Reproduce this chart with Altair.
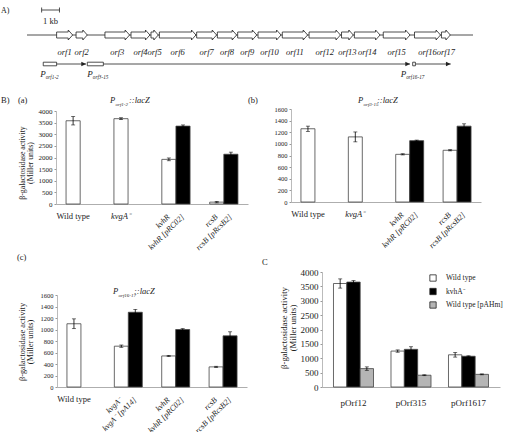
import altair as alt
import pandas as pd

FONT = "Liberation Serif"
INK = "#222222"
W, H = 515, 432

# ---------------- A) gene cluster map (kb) ----------------
MAP_KB = 25.0
ORF_NAMES = [f"orf{i}" for i in range(1, 18)]
ORF_START = [1.66, 2.75, 4.37, 5.83, 6.95, 7.42, 9.51, 10.67, 11.81, 12.95,
             14.31, 15.81, 17.63, 18.35, 19.97, 21.72, 23.23]
ORF_END = [2.56, 3.38, 5.75, 6.89, 7.36, 9.47, 10.63, 11.75, 12.88, 14.24,
           15.73, 17.57, 18.29, 19.79, 21.47, 23.18, 23.73]
PROMOTERS = ["orf1-2", "orf3-15", "orf16-17"]
PROMOTER_START = [0.91, 3.38, 21.62]
PROMOTER_END = [1.66, 4.28, 21.77]
TRANSCRIPT_END = [3.31, 21.47, 23.75]
SCALE_BAR_KB = [0.82, 1.82]

# ---------------- B) lacZ fusions, Miller units ----------------
STRAINS = ["Wild type", "kvgA⁻", "kvhR", "rcsB"]
SERIES = ["mutant", "complemented"]

A_MUT = [3580, 3670, 1920, 80]
A_MUT_ERR = [180, 40, 60, 30]
A_COMP = [None, None, 3350, 2140]
A_COMP_ERR = [None, None, 50, 90]
A_COMP_LABELS = [None, None, "kvhR [pRC02]", "rcsB [pRcsB2]"]

B_MUT = [1260, 1120, 820, 890]
B_MUT_ERR = [45, 85, 10, 10]
B_COMP = [None, None, 1055, 1305]
B_COMP_ERR = [None, None, 10, 40]
B_COMP_LABELS = [None, None, "kvhR [pRC02]", "rcsB [pRcsB2]"]

C_MUT = [1100, 710, 540, 350]
C_MUT_ERR = [85, 20, 10, 10]
C_COMP = [None, 1300, 1000, 890]
C_COMP_ERR = [None, 50, 15, 70]
C_COMP_LABELS = [None, "kvgA⁻ [pA14]", "kvhR [pRC02]", "rcsB [pRcsB2]"]

# ---------------- C) plasmid-borne fusions ----------------
FUSIONS = ["pOrf12", "pOrf315", "pOrf1617"]
HOSTS = ["Wild type", "kvhA⁻", "Wild type [pAHm]"]
HOST_WT = [3600, 1250, 1120]
HOST_WT_ERR = [160, 40, 80]
HOST_KVHA = [3650, 1310, 1070]
HOST_KVHA_ERR = [50, 90, 15]
HOST_PAHM = [640, 410, 440]
HOST_PAHM_ERR = [60, 15, 15]

Y_TITLE = ["β-galactosidase activity", "(Miller units)"]
ONE = pd.DataFrame({"n": [0]})


def note(text, x, y, size=8.5, style="normal", align="left",
         baseline="alphabetic", angle=0, line_height=None):
    props = dict(font=FONT, fontSize=size, fontStyle=style, align=align,
                 baseline=baseline, color=INK)
    if angle:
        props["angle"] = angle
    if line_height:
        props["lineHeight"] = line_height
    return alt.Chart(ONE).mark_text(**props).encode(
        x=alt.value(x), y=alt.value(y), text=alt.value(text))


def fusion_title(sub, x, y, sub_x, suffix_x, size=8.5, sub_size=5):
    return [
        note("P", x, y, size, "italic"),
        note(sub, sub_x, y + 2.5, sub_size, "italic"),
        note("::lacZ", suffix_x, y, size, "italic"),
    ]


# ---------------- gene map layers ----------------
kb = alt.Scale(domain=[0, MAP_KB], range=[27, 473])
HEAD_KB = 0.25

# outline vertices of each block arrow, listed left to right
poly = []
for name, s, e in zip(ORF_NAMES, ORF_START, ORF_END):
    hs = max(s, e - HEAD_KB)
    for x, half in [(s, 3), (hs, 3), (hs, 5), (e, 0)]:
        poly.append(dict(orf=name, kb=x, top=half, bottom=-half))
poly = pd.DataFrame(poly)

genes = pd.DataFrame({"orf": ORF_NAMES, "start": ORF_START, "end": ORF_END})
genes["mid"] = (genes["start"] + genes["end"]) / 2

prom = pd.DataFrame({"name": PROMOTERS, "start": PROMOTER_START,
                     "box_end": PROMOTER_END, "end": TRANSCRIPT_END})

backbone = alt.Chart(pd.DataFrame({"a": [0.0], "b": [MAP_KB]})).mark_rule(
    color=INK, strokeWidth=0.8).encode(
    x=alt.X("a:Q", scale=kb, axis=None), x2="b:Q", y=alt.value(35))

arrows = alt.Chart(poly).mark_area(
    fill="white", stroke=INK, strokeWidth=0.8, orient="vertical",
    interpolate="linear", fillOpacity=1).encode(
    x=alt.X("kb:Q", scale=kb, axis=None),
    y=alt.Y("top:Q", scale=alt.Scale(domain=[-5, 5], range=[40, 30]), axis=None),
    y2="bottom:Q",
    detail="orf:N")

orf_labels = alt.Chart(genes).mark_text(
    font=FONT, fontSize=8.5, fontStyle="italic", color=INK, baseline="middle").encode(
    x=alt.X("mid:Q", scale=kb, axis=None), y=alt.value(52), text="orf:N")

scale_df = pd.DataFrame({"kb": SCALE_BAR_KB})
scale_bar = alt.Chart(scale_df).mark_rule(color=INK, strokeWidth=0.8).encode(
    x=alt.X("min(kb):Q", scale=kb, axis=None), x2="max(kb):Q", y=alt.value(10))
scale_caps = alt.Chart(scale_df).mark_rule(color=INK, strokeWidth=0.8).encode(
    x=alt.X("kb:Q", scale=kb, axis=None), y=alt.value(7.5), y2=alt.value(12.5))
scale_text = alt.Chart(scale_df).mark_text(
    font=FONT, fontSize=8.5, color=INK, baseline="middle").encode(
    x=alt.X("mean(kb):Q", scale=kb, axis=None), y=alt.value(21), text=alt.value("1 kb"))

transcripts = alt.Chart(prom).mark_rule(color=INK, strokeWidth=0.8).encode(
    x=alt.X("box_end:Q", scale=kb, axis=None), x2="end:Q", y=alt.value(64))
heads = alt.Chart(prom).mark_point(
    shape="M-1,-0.5L0,0L-1,0.5Z", filled=True, color=INK, size=90, opacity=1).encode(
    x=alt.X("end:Q", scale=kb, axis=None), y=alt.value(64))
boxes = alt.Chart(prom).mark_rect(fill="white", stroke=INK, strokeWidth=0.8).encode(
    x=alt.X("start:Q", scale=kb, axis=None), x2="box_end:Q",
    y=alt.value(62.2), y2=alt.value(65.8))

tag_layers = []
for name, shift in zip(PROMOTERS, [-3, 0, -12]):
    sel = prom[prom["name"] == name]
    tag_layers.append(alt.Chart(sel).mark_text(
        font=FONT, fontSize=9, fontStyle="italic", color=INK, align="left", dx=shift).encode(
        x=alt.X("start:Q", scale=kb, axis=None), y=alt.value(74), text=alt.value("P")))
    tag_layers.append(alt.Chart(sel).mark_text(
        font=FONT, fontSize=5.2, fontStyle="italic", color=INK, align="left", dx=shift + 5.5).encode(
        x=alt.X("start:Q", scale=kb, axis=None), y=alt.value(76.5), text="name:N"))

gene_map = alt.layer(backbone, arrows, orf_labels, scale_bar, scale_caps, scale_text,
                     transcripts, heads, boxes, *tag_layers)


# ---------------- reporter bar panels ----------------
def reporter_panel(mut, mut_err, comp, comp_err, comp_labels, xr, yr, ymax, ystep, tick_fs):
    rows = []
    for i, g in enumerate(STRAINS):
        paired = comp[i] is not None
        rows.append(dict(group=g, series="mutant", value=mut[i], err=mut_err[i],
                         label=g, tilt=paired))
        if paired:
            rows.append(dict(group=g, series="complemented", value=comp[i], err=comp_err[i],
                             label=comp_labels[i], tilt=True))
    df = pd.DataFrame(rows)
    df["lo"] = df["value"] - df["err"]
    df["hi"] = df["value"] + df["err"]
    df["italic"] = df["label"] != "Wild type"

    xs = alt.Scale(domain=STRAINS, range=list(xr), paddingInner=0.41, paddingOuter=0.21)
    xax = alt.Axis(orient="bottom", offset=yr[0] - H, labels=False, ticks=False,
                   title=None, grid=False, domainColor="#999999", domainWidth=0.8)
    x = alt.X("group:N", scale=xs, axis=xax)
    xo = alt.XOffset("series:N", scale=alt.Scale(domain=SERIES, paddingInner=0, paddingOuter=0))
    ys = alt.Scale(domain=[0, ymax], range=list(yr), nice=False)
    yax = alt.Axis(orient="left", offset=-xr[0], values=list(range(0, ymax + 1, ystep)),
                   format="d", labelFont=FONT, labelFontSize=tick_fs, labelColor=INK,
                   tickSize=2, tickColor="#999999", domainColor="#aaaaaa", domainWidth=0.8,
                   grid=False, title=None, labelPadding=2)

    def yenc(f):
        return alt.Y(f"{f}:Q", scale=ys, axis=yax)

    base = alt.Chart(df)
    bars = base.mark_bar(stroke="#444444", strokeWidth=0.8).encode(
        x=x, xOffset=xo, y=yenc("value"),
        fill=alt.Fill("series:N", scale=alt.Scale(domain=SERIES, range=["white", "black"]),
                      legend=None))
    whisk = base.mark_rule(color="black", strokeWidth=0.8).encode(
        x=x, xOffset=xo, y=yenc("lo"), y2="hi:Q")
    cap_hi = base.mark_tick(color="black", thickness=0.8, size=4, orient="horizontal").encode(
        x=x, xOffset=xo, y=yenc("hi"))
    cap_lo = base.mark_tick(color="black", thickness=0.8, size=4, orient="horizontal").encode(
        x=x, xOffset=xo, y=yenc("lo"))
    flat_plain = base.transform_filter("!datum.tilt && !datum.italic").mark_text(
        font=FONT, fontSize=8.5, color=INK, baseline="middle").encode(
        x=x, xOffset=xo, y=alt.value(yr[0] + 12), text="label:N")
    flat_ital = base.transform_filter("!datum.tilt && datum.italic").mark_text(
        font=FONT, fontSize=8.5, fontStyle="italic", color=INK, baseline="middle").encode(
        x=x, xOffset=xo, y=alt.value(yr[0] + 12), text="label:N")
    tilted = base.transform_filter("datum.tilt").mark_text(
        font=FONT, fontSize=8, fontStyle="italic", color=INK, baseline="middle",
        align="right", angle=315).encode(
        x=x, xOffset=xo, y=alt.value(yr[0] + 12), text="label:N")
    return alt.layer(bars, whisk, cap_hi, cap_lo, flat_plain, flat_ital, tilted)


panel_a = reporter_panel(A_MUT, A_MUT_ERR, A_COMP, A_COMP_ERR, A_COMP_LABELS,
                         (56, 248), (204, 111), 4000, 500, 7)
panel_b = reporter_panel(B_MUT, B_MUT_ERR, B_COMP, B_COMP_ERR, B_COMP_LABELS,
                         (291, 481), (202, 109), 1600, 200, 6.5)
panel_c = reporter_panel(C_MUT, C_MUT_ERR, C_COMP, C_COMP_ERR, C_COMP_LABELS,
                         (57, 247), (387, 295), 1600, 200, 6.5)

# ---------------- C) panel ----------------
rows = []
for host, vals, errs in zip(HOSTS, [HOST_WT, HOST_KVHA, HOST_PAHM],
                            [HOST_WT_ERR, HOST_KVHA_ERR, HOST_PAHM_ERR]):
    for f, v, e in zip(FUSIONS, vals, errs):
        rows.append(dict(fusion=f, host=host, value=v, lo=v - e, hi=v + e))
cdf = pd.DataFrame(rows)

cx = alt.X("fusion:N", scale=alt.Scale(domain=FUSIONS, range=[322, 500],
                                        paddingInner=0.304, paddingOuter=0.2),
           axis=alt.Axis(orient="bottom", offset=387 - H, ticks=False, title=None,
                         grid=False, labelAngle=0, labelFont=FONT, labelFontSize=9,
                         labelColor=INK, labelPadding=11, domainColor="#999999",
                         domainWidth=0.8))
cxo = alt.XOffset("host:N", scale=alt.Scale(domain=HOSTS, paddingInner=0, paddingOuter=0))
cys = alt.Scale(domain=[0, 4000], range=[387, 272], nice=False)
cyax = alt.Axis(orient="left", offset=-322, values=list(range(0, 4001, 500)), format="d",
                labelFont=FONT, labelFontSize=9, labelColor=INK, tickSize=2,
                tickColor="#999999", domainColor="#aaaaaa", domainWidth=0.8,
                grid=False, title=None, labelPadding=2)


def cy(f):
    return alt.Y(f"{f}:Q", scale=cys, axis=cyax)


cbase = alt.Chart(cdf)
c_bars = cbase.mark_bar(stroke="#444444", strokeWidth=0.8).encode(
    x=cx, xOffset=cxo, y=cy("value"),
    fill=alt.Fill("host:N", scale=alt.Scale(domain=HOSTS, range=["white", "black", "#b5b5b5"]),
                  legend=alt.Legend(orient="none", legendX=429, legendY=274, title=None,
                                    symbolType="square", symbolSize=40,
                                    symbolStrokeColor=INK, symbolStrokeWidth=0.8,
                                    labelFont=FONT, labelFontSize=7.5, labelColor=INK,
                                    rowPadding=3.5, labelOffset=9)))
c_whisk = cbase.mark_rule(color="black", strokeWidth=0.8).encode(
    x=cx, xOffset=cxo, y=cy("lo"), y2="hi:Q")
c_cap_hi = cbase.mark_tick(color="black", thickness=0.8, size=4, orient="horizontal").encode(
    x=cx, xOffset=cxo, y=cy("hi"))
c_cap_lo = cbase.mark_tick(color="black", thickness=0.8, size=4, orient="horizontal").encode(
    x=cx, xOffset=cxo, y=cy("lo"))
panel_C = alt.layer(c_bars, c_whisk, c_cap_hi, c_cap_lo)

# ---------------- labels ----------------
notes = [
    note("A)", 1, 13, 8),
    note("B)", 1, 103, 8.5),
    note("(a)", 18, 103, 8.5),
    note("(b)", 248, 103, 8.5),
    note("(c)", 17, 260, 8.5),
    note("C", 262, 265, 8.5),
    note(Y_TITLE, 22.5, 163, 7.8, align="center", baseline="middle", angle=270, line_height=8.5),
    note(Y_TITLE, 22.5, 342, 8.3, align="center", baseline="middle", angle=270, line_height=8.5),
    note(Y_TITLE, 283.5, 328, 8.7, align="center", baseline="middle", angle=270, line_height=9),
    *fusion_title("orf1-2", 110, 103, 115.5, 129),
    *fusion_title("orf3-15", 358, 103, 363.5, 377),
    *fusion_title("orf16-17", 113, 294, 118.5, 134),
]

chart = alt.layer(gene_map, panel_a, panel_b, panel_c, panel_C, *notes).resolve_scale(
    x="independent", y="independent", xOffset="independent", fill="independent"
).resolve_axis(x="independent", y="independent").resolve_legend(
    fill="independent"
).properties(
    width=W, height=H, padding=0, background="white",
    autosize=alt.AutoSizeParams(type="none"),
).configure_view(stroke=None)

chart.save("out.html", embed_options={"renderer": "svg", "actions": False})
